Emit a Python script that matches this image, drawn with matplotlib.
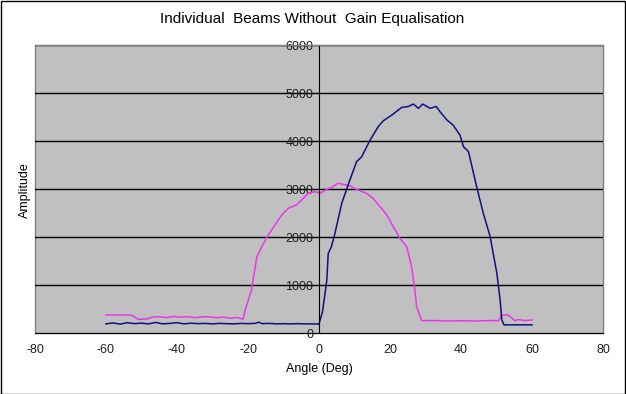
import matplotlib.pyplot as plt
from matplotlib.patches import Rectangle

plt.rcParams["font.family"] = ["Liberation Sans", "DejaVu Sans"]
plt.rcParams["axes.unicode_minus"] = False

# beam 1 (navy)
beam1_angle = [-60, -58, -56, -54, -52, -50, -48, -46, -44, -42, -40, -38, -36, -34,
               -32, -30, -28, -26, -24, -22, -20, -18, -17, -16, -14, -12, -10, -8,
               -6, -4, -2, 0, 1, 2.2, 2.6, 3.5, 4.5, 6.4, 8.7, 10.6, 12.0, 14.4,
               16.7, 18.1, 20.5, 23.3, 25.2, 26.6, 28.0, 29.2, 31.3, 33.0, 34.1,
               36.0, 37.8, 39.7, 40.7, 42.1, 44.4, 46.3, 48.2, 50.1, 51.0, 51.5,
               52.1, 54, 56, 58, 60]
beam1_amp = [190, 210, 185, 215, 195, 205, 190, 220, 190, 200, 215, 190, 205, 195,
             200, 190, 200, 195, 190, 200, 195, 200, 225, 195, 200, 190, 195, 190,
             195, 190, 190, 185, 450, 1100, 1660, 1800, 2080, 2700, 3190, 3570,
             3670, 4020, 4300, 4420, 4540, 4700, 4720, 4770, 4680, 4770, 4680,
             4720, 4610, 4440, 4330, 4125, 3880, 3780, 3050, 2490, 2010, 1245,
             700, 270, 170, 170, 170, 170, 170]

# beam 2 (magenta)
beam2_angle = [-60, -58, -56, -54, -52.7, -51, -48.5, -47, -45, -43, -41, -39, -37,
               -35, -33, -31, -29, -27, -25, -23, -21.4, -20.8, -19.0, -17.5,
               -16.1, -14.3, -12.4, -10.5, -8.6, -6.3, -4.9, -3.0, -1.1, 0.3, 2.2,
               3.6, 5.4, 7.3, 8.7, 10.1, 12.0, 13.4, 15.3, 17.2, 19.1, 20.9, 22.8,
               24.7, 26.1, 27.0, 27.5, 28.9, 32, 36, 40, 44, 48, 50.5, 51.5, 53.3,
               55.2, 56.1, 58, 60]
beam2_amp = [375, 375, 375, 375, 370, 285, 290, 330, 340, 320, 345, 330, 340,
             320, 335, 340, 320, 330, 310, 325, 285, 480, 900, 1590, 1800, 2040,
             2250, 2460, 2600, 2670, 2770, 2910, 2945, 2910, 2995, 3035, 3120,
             3090, 3070, 3010, 2950, 2910, 2800, 2630, 2460, 2220, 1970, 1800,
             1380, 900, 550, 256, 260, 250, 255, 250, 260, 256, 375, 375, 256,
             280, 260, 270]

x_ticks = [-80, -60, -40, -20, 0, 20, 40, 60, 80]
y_ticks = [0, 1000, 2000, 3000, 4000, 5000, 6000]

fig = plt.figure(figsize=(6.26, 3.94), dpi=100)
fig.patch.set_facecolor("white")
fig.patches.append(Rectangle((0.5 / 626, 0.5 / 394), 1 - 1.5 / 626, 1 - 1.5 / 394,
                             transform=fig.transFigure, fill=False,
                             edgecolor="black", linewidth=1))

ax = fig.add_axes([35 / 626, (394 - 333) / 394, 568 / 626, 288 / 394])
ax.set_facecolor("#C0C0C0")

ax.plot(beam2_angle, beam2_amp, color="#E838E8", linewidth=1.1)
ax.plot(beam1_angle, beam1_amp, color="#10107F", linewidth=1.1)

ax.set_xlim(-80, 80)
ax.set_ylim(0, 6000)
ax.set_xticks(x_ticks)
ax.set_yticks(y_ticks)
ax.tick_params(labelsize=9, length=0, labelcolor="#202020")
ax.tick_params(axis="x", pad=8)
ax.tick_params(axis="y", pad=4)

for y in y_ticks[1:]:
    ax.axhline(y, color="black", linewidth=1, zorder=1)

for side in ["top", "right"]:
    ax.spines[side].set_color("#808080")
ax.spines["bottom"].set_color("black")
ax.spines["left"].set_position(("data", 0))
ax.spines["left"].set_color("black")
ax.add_patch(Rectangle((0, 0), 1, 1, transform=ax.transAxes, fill=False,
                       edgecolor="#808080", linewidth=1, clip_on=False, zorder=0.5))

fig.text(312 / 626, 1 - 19 / 394, "Individual  Beams Without  Gain Equalisation",
         ha="center", va="center", fontsize=11)
fig.text(319 / 626, 1 - 369 / 394, "Angle (Deg)", ha="center", va="center", fontsize=9)
fig.text(25 / 626, 1 - 190 / 394, "Amplitude", ha="center", va="center",
         rotation=90, fontsize=9)

fig.savefig("out.png", dpi=100)
